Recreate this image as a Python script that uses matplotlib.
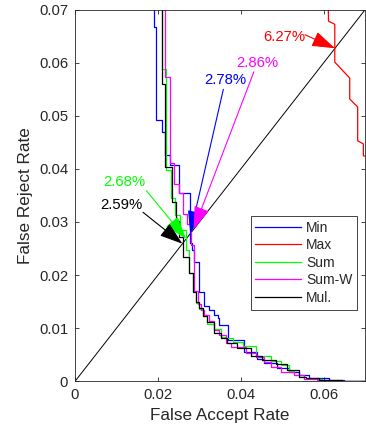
import matplotlib
matplotlib.use("Agg")
import matplotlib.pyplot as plt

plt.rcParams['font.family'] = ['Liberation Sans', 'DejaVu Sans']

# ---- data (FAR, FRR) ----
min_far = [0.01896, 0.01961, 0.02096, 0.02177, 0.02280, 0.02496, 0.02772, 0.02820, 0.02880,
           0.03000, 0.03121, 0.03241, 0.03344, 0.03440, 0.03481, 0.03680, 0.04081, 0.04400,
           0.04561, 0.04880, 0.05161, 0.05401, 0.05641, 0.06121, 0.06481, 0.0701]
min_frr = [0.075, 0.06675, 0.04921, 0.04696, 0.04255, 0.04077, 0.03542, 0.02595, 0.02463,
           0.02238, 0.01675, 0.01413, 0.01338, 0.01244, 0.01188, 0.01056, 0.00775, 0.00550,
           0.00428, 0.00343, 0.00259, 0.00180, 0.00118, 0.00056, 0.00024, 0.00015]

max_far = [0.06097, 0.06114, 0.06265, 0.06265, 0.06625, 0.06625, 0.06817, 0.06817, 0.06954,
           0.06954, 0.0720]
max_frr = [0.075, 0.06779, 0.06722, 0.06009, 0.05709, 0.05315, 0.05165, 0.04527, 0.04471,
           0.04246, 0.0420]

sum_far = [0.02105, 0.02201, 0.02321, 0.02417, 0.02520, 0.02676, 0.02760, 0.02840, 0.02921,
           0.03000, 0.03080, 0.03193, 0.03361, 0.03521, 0.03641, 0.03800, 0.04040, 0.04361,
           0.04722, 0.04961, 0.05161, 0.05281, 0.05521, 0.05953, 0.06361, 0.0701]
sum_frr = [0.075, 0.05878, 0.03983, 0.03448, 0.03139, 0.02857, 0.02463, 0.02032, 0.01694,
           0.01469, 0.01356, 0.01225, 0.01075, 0.00994, 0.00837, 0.00807, 0.00732, 0.00662,
           0.00475, 0.00387, 0.00306, 0.00199, 0.00118, 0.00038, 0.00011, 0.00006]

sumw_far = [0.02177, 0.02297, 0.02376, 0.02496, 0.02616, 0.02712, 0.02808, 0.02880, 0.02960,
            0.03041, 0.03121, 0.03241, 0.03361, 0.03481, 0.03641, 0.03761, 0.04121, 0.04361,
            0.04561, 0.04722, 0.04961, 0.05281, 0.05521, 0.05833, 0.06121, 0.0701]
sumw_frr = [0.075, 0.05728, 0.04114, 0.03720, 0.03538, 0.03158, 0.02970, 0.02557, 0.01694,
            0.01450, 0.01338, 0.01244, 0.01131, 0.00962, 0.00869, 0.00713, 0.00638, 0.00525,
            0.00462, 0.00368, 0.00263, 0.00180, 0.00118, 0.00038, 0.00024, 0.0001]

mul_far = [0.02096, 0.02177, 0.02328, 0.02424, 0.02496, 0.02592, 0.02760, 0.02840, 0.02921,
           0.03000, 0.03080, 0.03193, 0.03361, 0.03521, 0.03673, 0.03913, 0.04241, 0.04513,
           0.04841, 0.05113, 0.05401, 0.05562, 0.05881, 0.06433, 0.0701]
mul_frr = [0.075, 0.05597, 0.04039, 0.03373, 0.03026, 0.02726, 0.02332, 0.02032, 0.01675,
           0.01488, 0.01375, 0.01225, 0.01113, 0.00906, 0.00812, 0.00719, 0.00634, 0.00475,
           0.00400, 0.00325, 0.00212, 0.00086, 0.00056, 0.00024, 0.0001]

labels = ['Min', 'Max', 'Sum', 'Sum-W', 'Mul.']
colors = ['#0000ff', '#ff0000', '#00ff00', '#ff00ff', '#000000']
eer_pct = [2.78, 6.27, 2.68, 2.86, 2.59]   # equal error rates (%)

# ---- figure ----
fig = plt.figure(figsize=(3.66, 4.34), dpi=100)
ax = fig.add_axes([0.205, 0.1214, 0.793, 0.8567])

ax.plot([0, 0.07], [0, 0.07], color='k', lw=0.7, zorder=1)

series = [(min_far, min_frr, 'steps-pre'), (max_far, max_frr, 'default'),
          (sum_far, sum_frr, 'steps-pre'), (sumw_far, sumw_frr, 'steps-pre'),
          (mul_far, mul_frr, 'steps-pre')]
for (fx, fy, ds), lab, c in zip(series, labels, colors):
    ax.plot(fx, fy, color=c, lw=0.9, drawstyle=ds, label=lab, zorder=2)

ax.set_xlim(0, 0.07)
ax.set_ylim(0, 0.07)
ax.set_xticks([0, 0.02, 0.04, 0.06])
ax.set_xticklabels(['0', '0.02', '0.04', '0.06'])
ax.set_yticks([0, 0.01, 0.02, 0.03, 0.04, 0.05, 0.06, 0.07])
ax.set_yticklabels(['0', '0.01', '0.02', '0.03', '0.04', '0.05', '0.06', '0.07'])
ax.tick_params(direction='in', top=True, right=True, length=3, width=0.6,
               labelsize=10.7, colors='#262626', pad=5)
for s in ax.spines.values():
    s.set_color('#262626')
    s.set_linewidth(0.6)
ax.set_xlabel('False Accept Rate', fontsize=12.3, color='#262626', labelpad=4)
ax.set_ylabel('False Reject Rate', fontsize=12.3, color='#262626', labelpad=4)

# ---- EER annotations (label position, arrow start) ----
ann_layout = [((0.03632, 0.05672), (0.03577, 0.05497)),
              ((0.0504, 0.0648), (0.05545, 0.06525)),
              ((0.0120, 0.03758), (0.01721, 0.03589)),
              ((0.04393, 0.05991), (0.04313, 0.05827)),
              ((0.01121, 0.03327), (0.01639, 0.03182))]
for e, c, (tpos, spos) in zip(eer_pct, colors, ann_layout):
    tip = (e / 100.0, e / 100.0)
    ax.annotate('', xy=tip, xytext=spos,
                arrowprops=dict(arrowstyle='-|>,head_length=0.9,head_width=0.3',
                                color=c, lw=0.8, shrinkA=0, shrinkB=0,
                                mutation_scale=16),
                zorder=5)
    ax.text(tpos[0], tpos[1], f'{e:.2f}%', color=c, fontsize=10.7,
            ha='center', va='center', zorder=6)

leg = ax.legend(loc='upper right', bbox_to_anchor=(0.9726, 0.4446), borderaxespad=0,
                fontsize=10, handlelength=3.3, handletextpad=0.35, labelspacing=0.25,
                fancybox=False, framealpha=1, edgecolor='#262626', borderpad=0.35)
leg.get_frame().set_linewidth(0.6)
for t in leg.get_texts():
    t.set_color('#262626')

fig.savefig('out.png', dpi=100)
